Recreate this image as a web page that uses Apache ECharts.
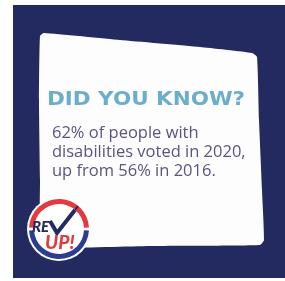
<!DOCTYPE html>
<html>
<head>
<meta charset="utf-8">
<script src="https://cdn.jsdelivr.net/npm/echarts@6/dist/echarts.min.js"></script>
<style>
  html, body { margin: 0; padding: 0; background: #ffffff; }
  #chart { width: 285px; height: 281px; }
</style>
</head>
<body>
<div id="chart"></div>
<script>
// Get dom in html
let chart_dom = document.getElementById("chart");
let chart = echarts.init(chart_dom);
//----------------------Data----------------------
let headline = "DID YOU KNOW?";
let vote_share = [62, 56];          // % of people with disabilities who voted
let vote_years = [2020, 2016];
let body_lines = [
    vote_share[0] + "% of people with",
    "disabilities voted in " + vote_years[0] + ",",
    "up from " + vote_share[1] + "% in " + vote_years[1] + "."
];
//---------------------Colours---------------------
let navy = "#222a60";
let blue_text = "#6aaecb";
let body_color = "#5a5480";
let red = "#e23b3f";
let ring_blue = "#2b3d93";
//--------------------Card shape--------------------
let card_points = [
    [44, 33], [120, 40], [200, 47], [252, 53], [257, 57],
    [259, 120], [262, 190], [264, 240], [260, 245],
    [150, 246], [60, 248], [41, 246], [40, 180], [39, 100], [40, 36]
];
//--------------------Logo-----------------------
let logo_cx = 59, logo_cy = 229;
let logo = [
    { type: 'circle', shape: { cx: logo_cx, cy: logo_cy, r: 32 }, style: { fill: '#ffffff' } },
    { type: 'sector', shape: { cx: logo_cx, cy: logo_cy, r: 30, r0: 25, startAngle: Math.PI + 0.05, endAngle: 2 * Math.PI - 0.05 }, style: { fill: red } },
    { type: 'sector', shape: { cx: logo_cx, cy: logo_cy, r: 30, r0: 25, startAngle: 0.05, endAngle: Math.PI - 0.05 }, style: { fill: ring_blue } },
    { type: 'polyline', shape: { points: [[50, 221], [57, 233], [75, 210]] }, style: { stroke: navy, lineWidth: 4, fill: null, lineJoin: 'miter' } },
    { type: 'polyline', shape: { points: [[75, 210], [78, 206]] }, style: { stroke: navy, lineWidth: 2, fill: null } },
    { type: 'text', style: { x: 32, y: 227, text: 'RE', fill: navy, font: 'italic 900 15px Lato', textVerticalAlign: 'middle' } },
    { type: 'text', style: { x: 45, y: 243, text: 'UP!', fill: red, font: 'italic 900 19px Lato', textVerticalAlign: 'middle' } }
];
//------------------Generate Graph------------------
let graphic_list = [
    { type: 'rect', shape: { x: 13, y: 5, width: 272, height: 273 }, style: { fill: navy } },
    { type: 'polygon', shape: { points: card_points, smooth: 0.15 }, style: { fill: '#fdfdfd' } },
    { type: 'text', x: 47, y: 100, scaleX: 1.13, style: { x: 0, y: 0, text: headline, fill: blue_text, font: 'bold 19px "DejaVu Sans"', textVerticalAlign: 'middle' } }
];
body_lines.forEach(function (line, i) {
    graphic_list.push({
        type: 'text',
        style: { x: 52, y: 133 + i * 19, text: line, fill: body_color, font: '16.5px "Open Sans"', textVerticalAlign: 'middle' }
    });
});
graphic_list = graphic_list.concat(logo);

let option = {
    backgroundColor: '#ffffff',
    animation: false,
    graphic: graphic_list
};
chart.setOption(option, true);
</script>
</body>
</html>
